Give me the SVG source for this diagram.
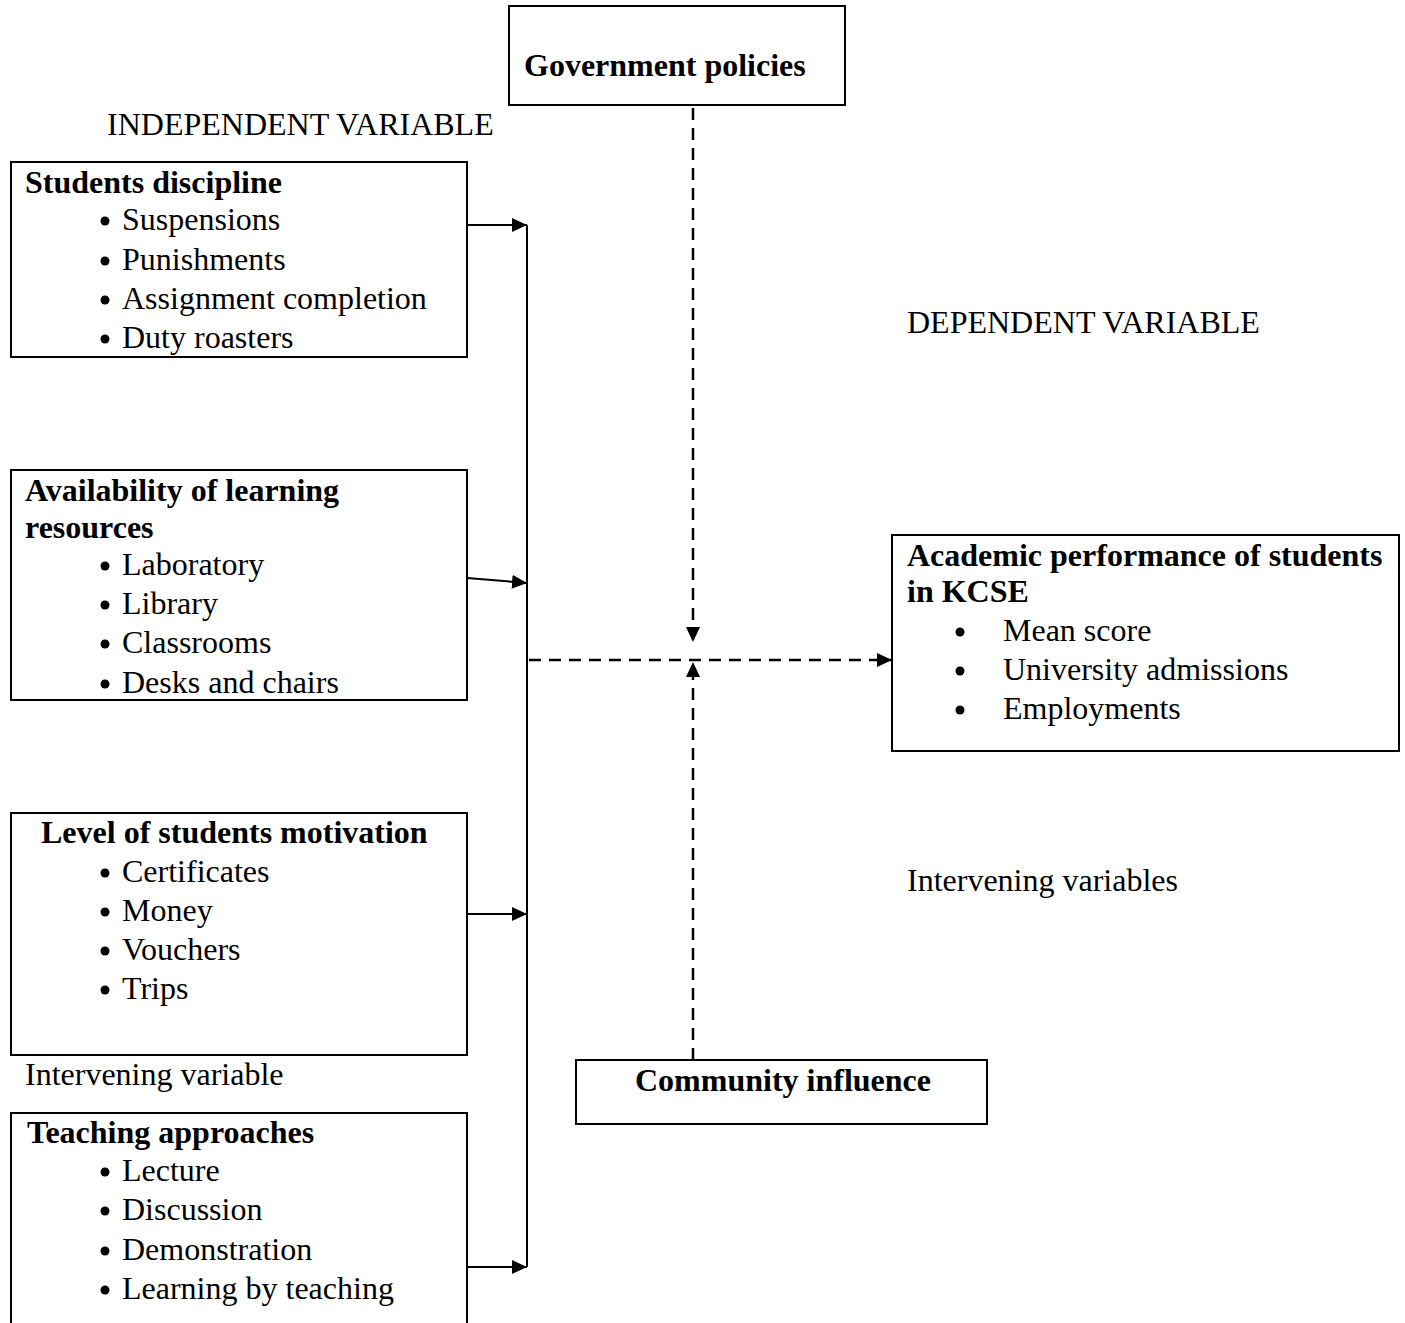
<svg xmlns="http://www.w3.org/2000/svg" width="1405" height="1323" viewBox="0 0 1405 1323">
<style>
text{font-family:"Liberation Serif","Times New Roman",serif;font-size:32px;fill:#000}
.b{font-weight:bold}
.box{fill:#fff;stroke:#000;stroke-width:2}
.ln{fill:none;stroke:#000;stroke-width:2}
.dash{fill:none;stroke:#000;stroke-width:2.5;stroke-dasharray:12,8}
.dot{fill:#000}
</style>
<defs>
<marker id="ah" markerWidth="15" markerHeight="14" refX="15" refY="7" orient="auto" markerUnits="userSpaceOnUse">
<path d="M0,0 L15,7 L0,14 Z" fill="#000"/>
</marker>
</defs>
<rect width="1405" height="1323" fill="#fff"/>
<text x="107" y="135">INDEPENDENT VARIABLE</text>
<text x="907" y="333">DEPENDENT VARIABLE</text>
<text x="907" y="891">Intervening variables</text>
<text x="25" y="1085">Intervening variable</text>
<g id="connectors">
<line class="ln" x1="527" y1="225" x2="527" y2="1267"/>
<line class="ln" x1="467" y1="225" x2="527" y2="225" marker-end="url(#ah)"/>
<line class="ln" x1="467" y1="578" x2="527" y2="583" marker-end="url(#ah)"/>
<line class="ln" x1="467" y1="914" x2="527" y2="914" marker-end="url(#ah)"/>
<line class="ln" x1="467" y1="1267" x2="527" y2="1267" marker-end="url(#ah)"/>
<line class="dash" x1="529" y1="660" x2="892" y2="660" marker-end="url(#ah)"/>
<line class="dash" x1="693" y1="108" x2="693" y2="642" marker-end="url(#ah)"/>
<line class="dash" x1="693" y1="1060" x2="693" y2="662" marker-end="url(#ah)"/>
</g>
<g id="gov">
<rect class="box" x="509" y="6" width="336" height="99"/>
<text class="b" x="524" y="76">Government policies</text>
</g>
<g id="discipline">
<rect class="box" x="11" y="162" width="456" height="195"/>
<text class="b" x="25" y="193">Students discipline</text>
<circle class="dot" cx="105" cy="221" r="4.5"/><text x="122" y="230">Suspensions</text>
<circle class="dot" cx="105" cy="261" r="4.5"/><text x="122" y="270">Punishments</text>
<circle class="dot" cx="105" cy="300" r="4.5"/><text x="122" y="309">Assignment completion</text>
<circle class="dot" cx="105" cy="339" r="4.5"/><text x="122" y="348">Duty roasters</text>
</g>
<g id="resources">
<rect class="box" x="11" y="470" width="456" height="230"/>
<text class="b" x="25" y="501">Availability of learning</text>
<text class="b" x="25" y="538">resources</text>
<circle class="dot" cx="105" cy="566" r="4.5"/><text x="122" y="575">Laboratory</text>
<circle class="dot" cx="105" cy="605" r="4.5"/><text x="122" y="614">Library</text>
<circle class="dot" cx="105" cy="644" r="4.5"/><text x="122" y="653">Classrooms</text>
<circle class="dot" cx="105" cy="684" r="4.5"/><text x="122" y="693">Desks and chairs</text>
</g>
<g id="motivation">
<rect class="box" x="11" y="813" width="456" height="242"/>
<text class="b" x="41" y="843">Level of students motivation</text>
<circle class="dot" cx="105" cy="873" r="4.5"/><text x="122" y="882">Certificates</text>
<circle class="dot" cx="105" cy="912" r="4.5"/><text x="122" y="921">Money</text>
<circle class="dot" cx="105" cy="951" r="4.5"/><text x="122" y="960">Vouchers</text>
<circle class="dot" cx="105" cy="990" r="4.5"/><text x="122" y="999">Trips</text>
</g>
<g id="teaching">
<rect class="box" x="11" y="1113" width="456" height="220"/>
<text class="b" x="27" y="1143">Teaching approaches</text>
<circle class="dot" cx="105" cy="1172" r="4.5"/><text x="122" y="1181">Lecture</text>
<circle class="dot" cx="105" cy="1211" r="4.5"/><text x="122" y="1220">Discussion</text>
<circle class="dot" cx="105" cy="1251" r="4.5"/><text x="122" y="1260">Demonstration</text>
<circle class="dot" cx="105" cy="1290" r="4.5"/><text x="122" y="1299">Learning by teaching</text>
</g>
<g id="academic">
<rect class="box" x="892" y="535" width="507" height="216"/>
<text class="b" x="907" y="566">Academic performance of students</text>
<text class="b" x="907" y="602">in KCSE</text>
<circle class="dot" cx="960" cy="632" r="4.5"/><text x="1003" y="641">Mean score</text>
<circle class="dot" cx="960" cy="671" r="4.5"/><text x="1003" y="680">University admissions</text>
<circle class="dot" cx="960" cy="710" r="4.5"/><text x="1003" y="719">Employments</text>
</g>
<g id="community">
<rect class="box" x="576" y="1060" width="411" height="64"/>
<text class="b" x="635" y="1091">Community influence</text>
</g>
</svg>
